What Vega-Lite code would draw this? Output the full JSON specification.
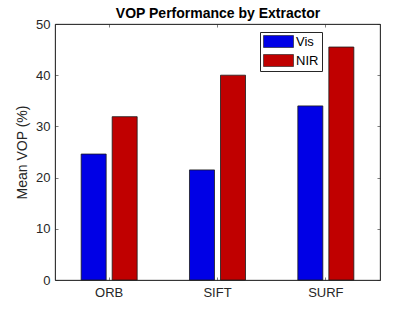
{
  "$schema": "https://vega.github.io/schema/vega-lite/v6.json",
  "width": 325,
  "height": 256,
  "autosize": {"type": "none"},
  "padding": {"left": 55, "top": 24, "right": 40, "bottom": 35},
  "background": "white",
  "config": {"view": {"stroke": "#262626", "strokeWidth": 0.8}, "font": "Liberation Sans"},
  "data": {"values": [
    {"extractor": "ORB", "band": "Vis", "vop": 24.6},
    {"extractor": "ORB", "band": "NIR", "vop": 31.9},
    {"extractor": "SIFT", "band": "Vis", "vop": 21.5},
    {"extractor": "SIFT", "band": "NIR", "vop": 40.0},
    {"extractor": "SURF", "band": "Vis", "vop": 34.0},
    {"extractor": "SURF", "band": "NIR", "vop": 45.5}
  ]},
  "layer": [
    {
      "mark": {"type": "bar", "stroke": "#1a1a1a", "strokeWidth": 0.8},
      "encoding": {
        "x": {"field": "extractor", "type": "nominal", "sort": ["ORB", "SIFT", "SURF"],
          "scale": {"paddingInner": 0.483, "paddingOuter": 0.2415},
          "axis": {"orient": "bottom", "title": null, "labelAngle": 0, "labelFontSize": 13, "labelColor": "#262626", "domainColor": "#262626", "domainWidth": 0.8, "tickColor": "#262626", "tickWidth": 0.6, "tickSize": -3, "labelPadding": 9}},
        "xOffset": {"field": "band", "type": "nominal", "sort": ["Vis", "NIR"], "scale": {"paddingInner": 0.194, "paddingOuter": 0}},
        "y": {"field": "vop", "type": "quantitative", "scale": {"domain": [0, 50], "nice": false},
          "axis": {"orient": "left", "title": "Mean VOP (%)", "titleFontSize": 14, "titleFontWeight": "normal", "titleColor": "#262626", "titlePadding": 6, "values": [0, 10, 20, 30, 40, 50], "grid": false, "labelFontSize": 13, "labelColor": "#262626", "domainColor": "#262626", "domainWidth": 0.8, "tickColor": "#262626", "tickWidth": 0.6, "tickSize": -3, "labelPadding": 8}},
        "color": {"field": "band", "type": "nominal", "sort": ["Vis", "NIR"],
          "scale": {"domain": ["Vis", "NIR"], "range": ["#0000e6", "#c00000"]},
          "legend": {"orient": "none", "legendX": 205, "legendY": 8, "direction": "vertical", "title": null, "fillColor": "white", "strokeColor": "#262626", "padding": 3, "symbolType": "M-1,-1H4V1H-1Z", "symbolSize": 144, "symbolStrokeColor": "#1a1a1a", "symbolStrokeWidth": 0.6, "symbolOpacity": 1, "labelFontSize": 13, "labelColor": "#000000", "labelOffset": 20, "rowPadding": 4}}
      }
    },
    {
      "mark": {"type": "bar", "opacity": 0},
      "encoding": {
        "x": {"field": "extractor", "type": "nominal", "sort": ["ORB", "SIFT", "SURF"],
          "scale": {"paddingInner": 0.483, "paddingOuter": 0.2415},
          "axis": {"orient": "top", "title": "VOP Performance by Extractor", "titleFontSize": 14, "titleFontWeight": "bold", "titleColor": "#000000", "titlePadding": 3, "labels": false, "domainColor": "#262626", "domainWidth": 0.8, "tickColor": "#262626", "tickWidth": 0.6, "tickSize": -3}},
        "y": {"field": "vop", "type": "quantitative", "scale": {"domain": [0, 50], "nice": false},
          "axis": {"orient": "right", "title": null, "labels": false, "values": [0, 10, 20, 30, 40, 50], "grid": false, "domainColor": "#262626", "domainWidth": 0.8, "tickColor": "#262626", "tickWidth": 0.6, "tickSize": -3}}
      }
    }
  ],
  "resolve": {"axis": {"x": "independent", "y": "independent"}}
}
